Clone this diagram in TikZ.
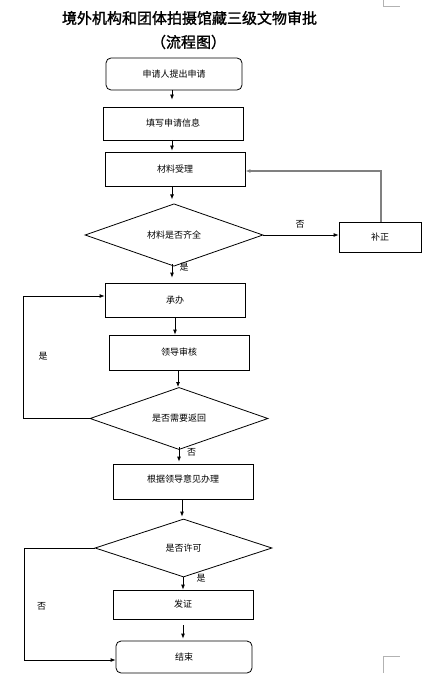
\documentclass[tikz,border=0pt]{standalone}
\usepackage{fontspec}
\setmainfont{Noto Sans CJK SC}
\newfontfamily\titlefont{Noto Sans CJK SC}[FakeBold=1.5]
\usetikzlibrary{shapes.geometric,arrows.meta}
\begin{document}
\begin{tikzpicture}[x=1pt,y=-1pt,
  box/.style={draw,line width=0.8pt,rectangle,inner sep=0pt,font=\fontsize{9}{10}\selectfont},
  rbox/.style={box,rounded corners=5pt},
  dia/.style={draw,line width=0.8pt,diamond,inner sep=0pt,font=\fontsize{9}{10}\selectfont},
  arr/.style={line width=0.8pt,-{Latex[length=5pt,width=4pt]}},
  lbl/.style={font=\fontsize{9}{10}\selectfont,inner sep=0pt},
  ttl/.style={inner sep=0pt,font=\fontsize{15}{16}\titlefont},
  cornermark/.style={draw=gray!60,line width=0.6pt}]
\useasboundingbox (0,0) rectangle (430,679);
% title
\node[ttl] (t1) at (189.5,18) {境外机构和团体拍摄馆藏三级文物审批};
\node[ttl] (t2) at (188.5,42) {（流程图）};
% corner marks
\draw[cornermark] (383,0) -- (383,6) -- (400,6);
\draw[cornermark] (383,673) -- (383,656) -- (400,656);
% nodes
\node[rbox,minimum width=136,minimum height=32] (n1) at (174,74) {申请人提出申请};
\node[box,minimum width=140,minimum height=33] (n2) at (173,123.5) {填写申请信息};
\node[box,minimum width=140,minimum height=34] (n3) at (175,169) {材料受理};
\node[dia,minimum width=178,minimum height=58] (d1) at (174,235) {材料是否齐全};
\node[box,minimum width=82,minimum height=30] (n4) at (380,237) {补正};
\node[box,minimum width=140,minimum height=34] (n5) at (175,300) {承办};
\node[box,minimum width=140,minimum height=35] (n6) at (179,352.5) {领导审核};
\node[dia,minimum width=178,minimum height=57] (d2) at (179,418.5) {是否需要返回};
\node[box,minimum width=140,minimum height=35] (n7) at (183,481.5) {\raisebox{5pt}{根据领导意见办理}};
\node[dia,minimum width=177,minimum height=58] (d3) at (183.5,548) {是否许可};
\node[box,minimum width=140,minimum height=29] (n8) at (183,604.5) {发证};
\node[rbox,minimum width=136,minimum height=32] (n9) at (184,657) {结束};
% connectors
\coordinate (a1) at (172,90);
\draw[arr,shorten >=7pt] (a1) -- (a1 |- n2.north);
\coordinate (a2) at (172,140);
\draw[arr,shorten >=1pt] (a2) -- (a2 |- n3.north);
\coordinate (a3) at (172,186);
\draw[arr,shorten >=4pt] (a3) -- (a3 |- d1.north);
\draw[arr] (d1.east) -- (d1.east -| n4.west);
\coordinate (c1) at (381,171);
\draw[arr,draw=gray,line width=1.1pt] (n4.north -| c1) -- (c1) -- (c1 -| n3.east);
\coordinate (a4) at (172,264);
\draw[arr,shorten >=5pt] (a4) -- (a4 |- n5.north);
\coordinate (a5) at (175,317);
\draw[arr] (a5) -- (a5 |- n6.north);
\coordinate (a6) at (178,370);
\draw[arr] (a6) -- (a6 |- d2.north);
\coordinate (c2) at (23,296);
\draw[arr] (d2.west) -- (d2.west -| c2) -- (c2) -- (c2 -| n5.west);
\coordinate (a7) at (179,447);
\draw[arr,shorten >=2pt] (a7) -- (a7 |- n7.north);
\coordinate (a8) at (182,499);
\draw[arr,shorten >=2pt] (a8) -- (a8 |- d3.north);
\coordinate (a9) at (183,577);
\draw[arr] (a9) -- (a9 |- n8.north);
\coordinate (c3) at (24,660);
\draw[arr] (d3.west) -- (d3.west -| c3) -- (c3) -- (c3 -| n9.west);
\coordinate (a10) at (183,625);
\draw[arr,shorten >=2pt] (a10) -- (a10 |- n9.north);
% labels
\node[lbl] (l1) at (300,224) {否};
\node[lbl] (l2) at (184,267) {是};
\node[lbl] (l3) at (43,356) {是};
\node[lbl] (l4) at (191.5,452) {否};
\node[lbl] (l5) at (201,578) {是};
\node[lbl] (l6) at (41.5,606) {否};
\end{tikzpicture}
\end{document}
